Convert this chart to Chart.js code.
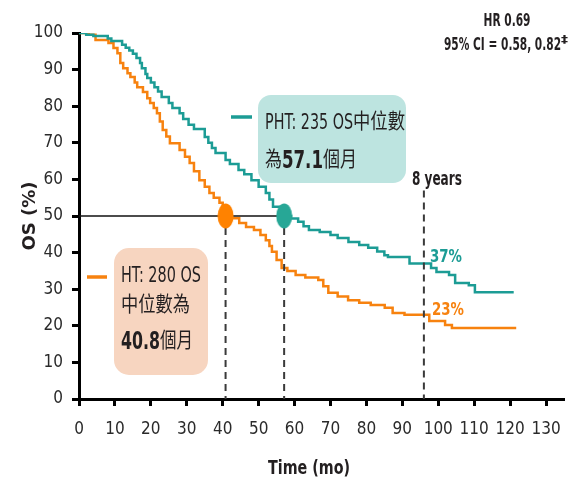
<!DOCTYPE html>
<html>
<head>
<meta charset="utf-8">
<script src="https://cdn.jsdelivr.net/npm/chart.js@4"></script>
<style>
  html, body { margin: 0; padding: 0; background: #fff; }
  canvas { display: block; }
</style>
</head>
<body>
<canvas id="os-chart" width="577" height="482"></canvas>
<script>
// axis ticks
const months = [0, 10, 20, 30, 40, 50, 60, 70, 80, 90, 100, 110, 120, 130];
const pctTicks = [0, 10, 20, 30, 40, 50, 60, 70, 80, 90, 100];

// Kaplan-Meier OS, PHT arm (months, % alive)
const phtTime = [0, 2, 4, 8, 9, 12, 13, 14, 15, 16, 17, 17.5, 18.5, 19, 20, 21, 22, 23, 25, 26, 28, 29, 30.5, 32, 35, 36, 37, 38, 40.8, 42, 44.4, 46, 48, 50, 52, 53, 54, 56, 57.1, 59, 61, 62.5, 64, 67, 70, 72, 75, 78, 80.5, 83, 85, 86, 92, 98, 99.5, 103, 104.7, 108.5, 110.2, 121];
const phtSurv = [100, 99.5, 99.2, 98.5, 97.8, 96.8, 96, 95.2, 94.3, 93.2, 91.8, 90.4, 88.8, 87.7, 86.5, 85.2, 84, 82.5, 80.9, 79.5, 78.1, 76.5, 74.9, 73.8, 71.6, 70, 68.6, 67.2, 65.3, 64.2, 62.6, 61.4, 59.8, 58, 56.3, 54.5, 52.5, 51.2, 50, 49.3, 48.4, 47.2, 46.2, 45.6, 44.8, 44, 42.9, 42.1, 41.3, 40.3, 39.3, 38.8, 37, 35.8, 34.7, 33.9, 31.7, 31.1, 29.2, 29.2];

// Kaplan-Meier OS, HT arm
const htTime = [0, 2.7, 4.6, 8.2, 9.6, 10.7, 11.5, 12.3, 13.5, 14.3, 15.5, 16.2, 17.8, 19, 19.8, 20.8, 21.7, 22.5, 23.3, 24.3, 25.3, 28, 29.5, 30.8, 32, 33.5, 35, 36.3, 37.5, 39.1, 40, 40.8, 42, 44.6, 46.5, 48.7, 50.5, 52, 53, 53.7, 55, 56.4, 58, 60.3, 63, 66.6, 68, 69.4, 72, 74.9, 78, 81.2, 85.1, 87.3, 90.6, 97.5, 101.9, 103.8, 121.7];
const htSurv = [100, 99.5, 98.1, 97.3, 95.9, 94.5, 91.8, 90.4, 89, 88, 86.5, 85.2, 83.9, 82.2, 80.9, 79.5, 78.1, 75.8, 73.5, 71.7, 69.9, 68, 66.2, 64.5, 62.2, 59.8, 58, 56.3, 55, 53.6, 52, 50, 49.4, 48.1, 47, 46.2, 44.8, 43.4, 41.8, 40.2, 38, 35.8, 35, 33.9, 33.2, 32.5, 30.8, 29, 28, 27, 26.3, 25.7, 24.9, 23.5, 23, 21.3, 20.2, 19.4, 19.4];

const medianPHT = 57.1;
const medianHT = 40.8;
const landmark = 96;       // 8 years
const landmarkPHT = 37;
const landmarkHT = 23;

const TEAL = '#1c9c95';
const ORANGE = '#f7820f';
const narrow = '"Liberation Sans Narrow", "DejaVu Sans Condensed", "Noto Sans CJK TC", sans-serif';
const INK = '#231f20';

const pts = (xs, ys) => xs.map((x, i) => ({ x: x, y: ys[i] }));

function ellipse(color) {
  const c = document.createElement('canvas');
  c.width = 17; c.height = 26;
  const g = c.getContext('2d');
  g.fillStyle = color;
  g.beginPath();
  g.ellipse(8.5, 13, 8, 12.5, 0, 0, Math.PI * 2);
  g.fill();
  return c;
}

function rrect(ctx, x, y, w, h, r) {
  ctx.beginPath();
  ctx.moveTo(x + r, y);
  ctx.arcTo(x + w, y, x + w, y + h, r);
  ctx.arcTo(x + w, y + h, x, y + h, r);
  ctx.arcTo(x, y + h, x, y, r);
  ctx.arcTo(x, y, x + w, y, r);
  ctx.closePath();
}

// draw a run of text pieces, each [text, size, bold, color, width]
// every piece is squeezed horizontally to the given width
function put(ctx, parts, x, y, align, dy) {
  const w = parts.reduce((a, p) => a + p[4], 0);
  let cx = align === 'center' ? x - w / 2 : x;
  ctx.textBaseline = 'middle';
  ctx.textAlign = 'left';
  parts.forEach(p => {
    ctx.font = (p[2] ? 'bold ' : '') + p[1] + 'px ' + narrow;
    ctx.fillStyle = p[3];
    const sx = p[4] / ctx.measureText(p[0]).width;
    ctx.save();
    ctx.translate(cx, y + (p[5] || 0));
    ctx.scale(sx, 1);
    ctx.fillText(p[0], 0, 0);
    ctx.restore();
    cx += p[4];
  });
}

const notes = {
  id: 'notes',
  beforeDatasetsDraw(chart) {
    const ctx = chart.ctx;
    ctx.save();
    ctx.fillStyle = '#bde4e0';
    rrect(ctx, 258, 95, 148, 88, 13);
    ctx.fill();
    ctx.fillStyle = '#f7d5c0';
    rrect(ctx, 114, 248, 94, 127, 15);
    ctx.fill();
    ctx.lineWidth = 3.5;
    ctx.strokeStyle = TEAL;
    ctx.beginPath(); ctx.moveTo(231, 117); ctx.lineTo(252, 117); ctx.stroke();
    ctx.strokeStyle = ORANGE;
    ctx.beginPath(); ctx.moveTo(87, 277); ctx.lineTo(107, 277); ctx.stroke();
    ctx.restore();
  },
  afterDraw(chart) {
    const ctx = chart.ctx;
    const xs = chart.scales.x, ys = chart.scales.y;
    const lx = xs.getPixelForValue(landmark);
    ctx.save();
    put(ctx, [['PHT: 235 OS', 22, false, INK, 88], ['中位數', 21, false, INK, 52]], 265, 123);
    put(ctx, [['為', 21, false, INK, 17], ['57.1', 25, true, INK, 41], ['個月', 21, false, INK, 34]], 265, 161);
    put(ctx, [['HT: 280 OS', 21, false, INK, 80]], 121, 277);
    put(ctx, [['中位數為', 21, false, INK, 69]], 121, 306);
    put(ctx, [['40.8', 25, true, INK, 39], ['個月', 21, false, INK, 33]], 121, 342);

    put(ctx, [['HR 0.69', 18, true, INK, 47]], 507, 21, 'center');
    put(ctx, [['95% CI = 0.58, 0.82', 18, true, INK, 117], ['‡', 11, true, INK, 7, -5]], 506, 45, 'center');
    put(ctx, [['8 years', 19, true, INK, 50]], lx + 13, 180, 'center');

    put(ctx, [[landmarkPHT + '%', 18, true, TEAL, 32]], lx + 6, ys.getPixelForValue(landmarkPHT + 1.8));
    put(ctx, [[landmarkHT + '%', 18, true, ORANGE, 32]], lx + 8, ys.getPixelForValue(landmarkHT + 1.3));

    put(ctx, [['Time (mo)', 20, true, INK, 82]], 309, 469, 'center');

    ctx.translate(30, 216);
    ctx.rotate(-Math.PI / 2);
    ctx.font = 'bold 18px "DejaVu Sans", sans-serif';
    ctx.fillStyle = INK;
    ctx.textAlign = 'center';
    ctx.textBaseline = 'middle';
    ctx.fillText('OS (%)', 0, 0);
    ctx.restore();
  }
};

const dashed = { borderColor: '#3a3a3a', borderWidth: 2, borderDash: [7, 5], pointRadius: 0 };

new Chart(document.getElementById('os-chart'), {
  type: 'line',
  data: {
    datasets: [
      {
        data: [{ x: medianHT, y: 50 }, { x: medianPHT, y: 50 }],
        showLine: false,
        pointStyle: [ellipse('#ff8200'), ellipse('#27a796')],
        pointRadius: 12
      },
      Object.assign({ data: [{ x: medianHT, y: 50 }, { x: medianHT, y: 0 }] }, dashed),
      Object.assign({ data: [{ x: medianPHT, y: 50 }, { x: medianPHT, y: 0 }] }, dashed),
      Object.assign({ data: [{ x: landmark, y: 57 }, { x: landmark, y: 0 }] }, dashed),
      {
        label: 'PHT',
        data: pts(phtTime, phtSurv),
        borderColor: TEAL,
        borderWidth: 2.5,
        stepped: 'before',
        pointRadius: 0
      },
      {
        label: 'HT',
        data: pts(htTime, htSurv),
        borderColor: ORANGE,
        borderWidth: 2.5,
        stepped: 'before',
        pointRadius: 0
      },
      {
        data: [{ x: 0, y: 50 }, { x: medianPHT, y: 50 }],
        borderColor: '#111',
        borderWidth: 1.5,
        pointRadius: 0
      }
    ]
  },
  options: {
    responsive: false,
    animation: false,
    events: [],
    layout: { padding: { top: 33, right: 8, left: 0, bottom: 0 } },
    plugins: {
      legend: { display: false },
      tooltip: { enabled: false }
    },
    scales: {
      x: {
        type: 'linear',
        min: 0,
        max: 135,
        afterBuildTicks: s => { s.ticks = months.map(v => ({ value: v })); },
        afterFit: s => { s.height = 83; },
        border: { display: true, color: '#000', width: 3 },
        grid: { drawOnChartArea: false, drawTicks: true, tickLength: 7, tickWidth: 3, tickColor: '#000' },
        ticks: { padding: 13, maxRotation: 0, autoSkip: false, color: '#2a2a2a', font: { family: narrow, size: 17 } }
      },
      y: {
        min: 0,
        max: 100,
        afterBuildTicks: s => { s.ticks = pctTicks.map(v => ({ value: v })); },
        afterFit: s => { s.width = 79; },
        border: { display: true, color: '#000', width: 3 },
        grid: { drawOnChartArea: false, drawTicks: true, tickLength: 7, tickWidth: 3, tickColor: '#000' },
        ticks: { padding: 9, color: '#2a2a2a', font: { family: narrow, size: 17 } }
      }
    }
  },
  plugins: [notes]
});
</script>
</body>
</html>
